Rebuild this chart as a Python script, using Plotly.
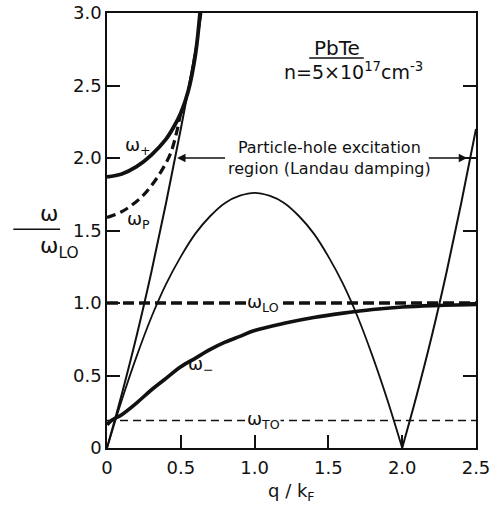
import plotly.graph_objects as go

# ---------------- data ----------------
x_ticks = [0, 0.5, 1.0, 1.5, 2.0, 2.5]
x_ticktext = ["0", "0.5", "1.0", "1.5", "2.0", "2.5"]
y_ticks = [0, 0.5, 1.0, 1.5, 2.0, 2.5, 3.0]
y_ticktext = ["0", "0.5", "1.0", "1.5", "2.0", "2.5", "3.0"]

# upper edge of particle-hole continuum (steep line)
q_upper = [0, 0.1, 0.2, 0.3, 0.4, 0.5, 0.6, 0.64]
w_upper = [0, 0.37, 0.77, 1.21, 1.69, 2.20, 2.75, 3.0]

# lower edge of continuum (hump, 0..2)
q_lower = [0, 0.1, 0.2, 0.3, 0.4, 0.5, 0.6, 0.7, 0.8, 0.9, 1.0,
           1.1, 1.2, 1.3, 1.4, 1.5, 1.6, 1.7, 1.8, 1.9, 2.0]
w_lower = [0, 0.33, 0.63, 0.90, 1.13, 1.32, 1.48, 1.60, 1.69, 1.74, 1.76,
           1.74, 1.69, 1.60, 1.48, 1.32, 1.13, 0.90, 0.63, 0.33, 0]

# lower edge beyond 2kF
q_right = [2.0, 2.1, 2.2, 2.3, 2.4, 2.5]
w_right = [0, 0.37, 0.77, 1.21, 1.69, 2.20]

# omega_plus (thick solid)
q_plus = [0, 0.1, 0.2, 0.3, 0.4, 0.45, 0.5, 0.55, 0.6, 0.63]
w_plus = [1.87, 1.89, 1.94, 2.02, 2.13, 2.21, 2.31, 2.46, 2.72, 3.0]

# omega_P (thick dashed)
q_p = [0, 0.1, 0.2, 0.27, 0.33, 0.38, 0.43, 0.47, 0.505]
w_p = [1.59, 1.63, 1.70, 1.77, 1.85, 1.93, 2.03, 2.17, 2.34]

# omega_minus (thick solid)
q_minus = [0, 0.03, 0.1, 0.2, 0.3, 0.4, 0.5, 0.6, 0.7, 0.8, 0.9, 1.0,
           1.2, 1.4, 1.6, 1.8, 2.0, 2.2, 2.5]
w_minus = [0.16, 0.19, 0.23, 0.31, 0.40, 0.48, 0.56, 0.62, 0.68, 0.73, 0.77, 0.81,
           0.86, 0.90, 0.93, 0.955, 0.972, 0.982, 0.99]

# phonon frequencies
q_flat = [0, 2.5]
w_LO = [1.0, 1.0]
w_TO = [0.19, 0.19]

INK = "#111111"
FONT = "DejaVu Sans"

fig = go.Figure()

def add(x, y, width, dash="solid", shape="spline"):
    fig.add_trace(go.Scatter(x=x, y=y, mode="lines",
                             line=dict(color=INK, width=width, dash=dash, shape=shape),
                             showlegend=False, hoverinfo="skip"))

add(q_flat, w_TO, 1.5, dash="8px,5px", shape="linear")
add(q_flat, w_LO, 3.4, dash="11px,5px", shape="linear")
add(q_upper, w_upper, 2.0)
add(q_lower, w_lower, 1.8)
add(q_right, w_right, 2.0)
add(q_p, w_p, 3.2, dash="9px,5px")
add(q_plus, w_plus, 3.8)
add(q_minus, w_minus, 3.6)

ann = []
def label(x, y, text, size=18, bg=None):
    d = dict(x=x, y=y, xref="x", yref="y", text=text, showarrow=False,
             font=dict(family=FONT, size=size, color=INK))
    if bg:
        d["bgcolor"] = bg
        d["borderpad"] = 0
    ann.append(d)

label(0.21, 2.08, "ω<sub>+</sub>")
label(0.21, 1.57, "ω<sub>P</sub>")
label(0.64, 0.57, "ω<sub>−</sub>")
label(1.06, 1.0, "ω<sub>LO</sub>", bg="white")
label(1.06, 0.19, "ω<sub>TO</sub>", bg="white")

# continuum text and arrows
ann.append(dict(x=1.505, y=2.0, xref="x", yref="y",
                text="Particle-hole excitation<br>region (Landau damping)",
                showarrow=False, align="center",
                font=dict(family=FONT, size=16, color=INK)))
ann.append(dict(x=0.475, y=2.0, ax=0.81, ay=2.0, xref="x", yref="y",
                axref="x", ayref="y", text="", showarrow=True,
                arrowhead=2, arrowsize=1.2, arrowwidth=1.4, arrowcolor=INK))
ann.append(dict(x=2.44, y=2.0, ax=2.17, ay=2.0, xref="x", yref="y",
                axref="x", ayref="y", text="", showarrow=True,
                arrowhead=2, arrowsize=1.2, arrowwidth=1.4, arrowcolor=INK))

# title block
ann.append(dict(x=1.56, y=2.76, xref="x", yref="y", text="PbTe", showarrow=False,
                font=dict(family=FONT, size=20, color=INK)))
ann.append(dict(x=1.667, y=2.60, xref="x", yref="y",
                text="n=5×10<sup>17</sup>cm<sup>-3</sup>", showarrow=False,
                font=dict(family=FONT, size=19, color=INK)))

# x-axis title
ann.append(dict(x=0.5, y=-0.1, xref="paper", yref="paper", text="q / k<sub>F</sub>",
                showarrow=False, yanchor="middle",
                font=dict(family=FONT, size=18, color=INK)))

# y-axis title as a fraction
ann.append(dict(x=-0.187, y=0.505, xref="paper", yref="paper", text="ω",
                showarrow=False, yanchor="bottom",
                font=dict(family=FONT, size=22, color=INK)))
ann.append(dict(x=-0.187, y=0.500, xref="paper", yref="paper", text="ω<sub>LO</sub>",
                showarrow=False, yanchor="top",
                font=dict(family=FONT, size=22, color=INK)))

shapes = [
    dict(type="line", xref="paper", yref="paper", x0=-0.254, x1=-0.127,
         y0=0.503, y1=0.503, line=dict(color=INK, width=1.6)),
    dict(type="line", xref="x", yref="y", x0=1.37, x1=1.74, y0=2.69, y1=2.69,
         line=dict(color=INK, width=1.5)),
]

fig.update_layout(
    width=500, height=506,
    margin=dict(l=107, r=24, t=13, b=58, autoexpand=False),
    paper_bgcolor="white", plot_bgcolor="white",
    annotations=ann, shapes=shapes,
    font=dict(family=FONT, color=INK),
    xaxis=dict(range=[0, 2.5], tickvals=x_ticks, ticktext=x_ticktext,
               ticks="inside", ticklen=13, tickwidth=1.5, tickcolor=INK,
               showline=True, linecolor=INK, linewidth=1.6, mirror=True,
               showgrid=False, zeroline=False, ticklabelstandoff=3,
               automargin=False, ticklabeloverflow="allow",
               tickfont=dict(family=FONT, size=18, color=INK)),
    yaxis=dict(range=[0, 3.0], tickvals=y_ticks, ticktext=y_ticktext,
               ticks="inside", ticklen=13, tickwidth=1.5, tickcolor=INK,
               showline=True, linecolor=INK, linewidth=1.6, mirror="ticks",
               showgrid=False, zeroline=False, ticklabelstandoff=0,
               automargin=False, ticklabeloverflow="allow",
               tickfont=dict(family=FONT, size=18, color=INK)),
)

# remove the default page margin so the 500x506 figure fills the window exactly
fig.write_html("out.html", config={"displayModeBar": False},
               post_script="document.body.style.margin='0';")
